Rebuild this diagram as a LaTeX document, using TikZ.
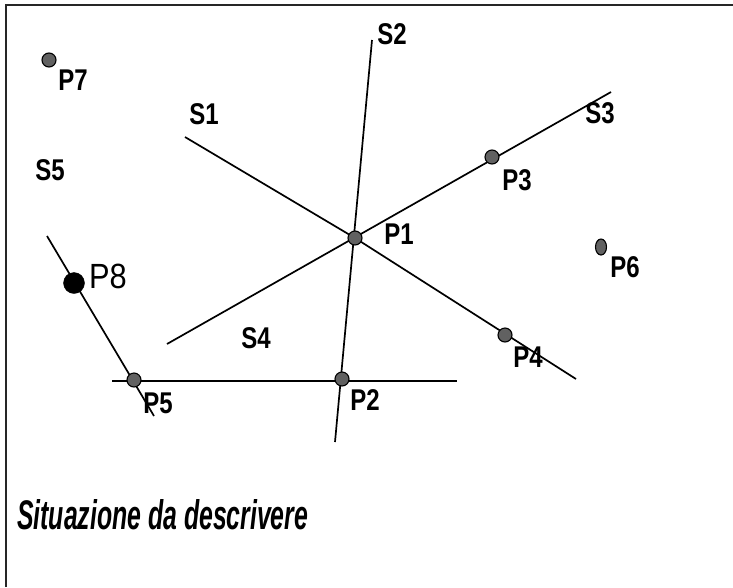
\documentclass[tikz,border=0pt]{standalone}
\usepackage{fontspec}
\usepackage{graphicx}
\usetikzlibrary{shapes.geometric}
\setmainfont{Liberation Sans}
\newcommand{\sxl}[1]{\scalebox{0.8}[1]{#1}}
\begin{document}
\begin{tikzpicture}[x=1pt,y=-1pt,
  seg/.style={line width=1.7pt, black},
  frame/.style={line width=2.8pt, black!85},
  dot/.style={circle, draw=black, line width=1.1pt, fill=black!62, minimum size=14pt, inner sep=0pt},
  bigdot/.style={circle, draw=black, fill=black, minimum size=21pt, inner sep=0pt},
  lbl/.style={inner sep=0pt, font=\bfseries\fontsize{30}{30}\selectfont}
]
\useasboundingbox (0,0) rectangle (733,587);
\fill[white] (0,0) rectangle (733,587);
% frame (top and left)
\coordinate (fa) at (6,587);
\coordinate (fb) at (6,5);
\coordinate (fc) at (733,5);
\draw[frame] (fa) -- (fb) -- (fc);

% line end points
\coordinate (s1a) at (185,137);
\coordinate (s1b) at (576,379);
\coordinate (s2a) at (372,40);
\coordinate (s2b) at (335,442);
\coordinate (s3a) at (611,92);
\coordinate (s3b) at (167,344);
\coordinate (s4a) at (112,381);
\coordinate (s4b) at (457,381);
\coordinate (s5a) at (47,236);
\coordinate (s5b) at (154,416);
\coordinate (p1c) at (355,238);

\draw[seg] (s1a) -- (p1c) -- (s1b);
\draw[seg] (s2a) -- (s2b);
\draw[seg] (s3a) -- (s3b);
\draw[seg] (s4a) -- (s4b);
\draw[seg] (s5a) -- (s5b);

% points
\node[dot] (P1) at (355,238) {};
\node[dot] (P2) at (342,379) {};
\node[dot] (P3) at (492,157) {};
\node[dot] (P4) at (505,335) {};
\node[dot] (P5) at (134,380) {};
\node[dot, ellipse, minimum width=11pt, minimum height=16pt] (P6) at (601,247) {};
\node[dot] (P7) at (49,60) {};
\node[bigdot] (P8) at (74,283) {};

% labels
\node[lbl] (lP7) at (73,80) {\sxl{P7}};
\node[lbl] (lP1) at (399,234) {\sxl{P1}};
\node[lbl] (lP2) at (365,400) {\sxl{P2}};
\node[lbl] (lP3) at (517,180) {\sxl{P3}};
\node[lbl] (lP4) at (528,357) {\sxl{P4}};
\node[lbl] (lP5) at (158,403) {\sxl{P5}};
\node[lbl] (lP6) at (625,267) {\sxl{P6}};
\node[inner sep=0pt, font=\fontsize{35}{35}\selectfont] (lP8) at (108,276) {\scalebox{0.88}[1]{P8}};
\node[lbl] (lS1) at (204,114) {\sxl{S1}};
\node[lbl] (lS2) at (392,34) {\sxl{S2}};
\node[lbl] (lS3) at (600,113) {\sxl{S3}};
\node[lbl] (lS4) at (256,338) {\sxl{S4}};
\node[lbl] (lS5) at (50,170) {\sxl{S5}};

% title
\node[anchor=west, inner sep=0pt] (title) at (17,515)
  {\resizebox{291pt}{30pt}{\bfseries\itshape Situazione da descrivere}};
\end{tikzpicture}
\end{document}
